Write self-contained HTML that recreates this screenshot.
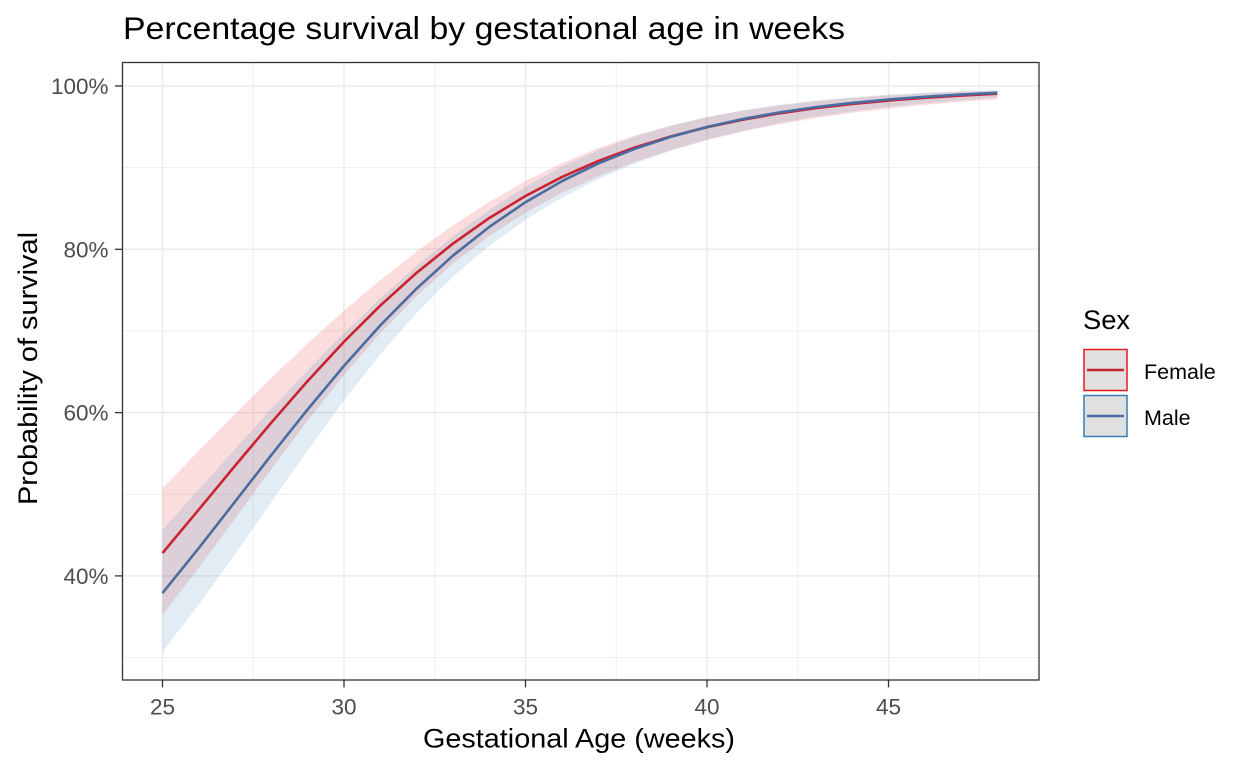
<!DOCTYPE html>
<html>
<head>
<meta charset="utf-8">
<style>
  html, body { margin: 0; padding: 0; background: #ffffff; }
  svg { display: block; }
  text { font-family: "Liberation Sans", Arial, sans-serif; }
</style>
</head>
<body>
<svg id="chart" xmlns="http://www.w3.org/2000/svg" width="1248" height="768" viewBox="0 0 1248 768">
  <rect x="0" y="0" width="1248" height="768" fill="#ffffff"/>

  <!-- minor grid -->
  <g stroke="#EBEBEB" stroke-width="0.8" fill="none">
    <line x1="122.5" x2="1039" y1="657.55" y2="657.55"/>
    <line x1="122.5" x2="1039" y1="494.25" y2="494.25"/>
    <line x1="122.5" x2="1039" y1="330.95" y2="330.95"/>
    <line x1="122.5" x2="1039" y1="167.65" y2="167.65"/>
    <line y1="62.5" y2="680" x1="253.25" x2="253.25"/>
    <line y1="62.5" y2="680" x1="434.75" x2="434.75"/>
    <line y1="62.5" y2="680" x1="616.25" x2="616.25"/>
    <line y1="62.5" y2="680" x1="797.75" x2="797.75"/>
    <line y1="62.5" y2="680" x1="979.25" x2="979.25"/>
  </g>
  <!-- major grid -->
  <g stroke="#EBEBEB" stroke-width="1.5" fill="none">
    <line x1="122.5" x2="1039" y1="575.9" y2="575.9"/>
    <line x1="122.5" x2="1039" y1="412.6" y2="412.6"/>
    <line x1="122.5" x2="1039" y1="249.3" y2="249.3"/>
    <line x1="122.5" x2="1039" y1="86" y2="86"/>
    <line y1="62.5" y2="680" x1="162.5" x2="162.5"/>
    <line y1="62.5" y2="680" x1="344" x2="344"/>
    <line y1="62.5" y2="680" x1="525.5" x2="525.5"/>
    <line y1="62.5" y2="680" x1="707" x2="707"/>
    <line y1="62.5" y2="680" x1="888.5" x2="888.5"/>
  </g>

  <!-- ribbons -->
  <path id="ribF" fill="#E41A1C" fill-opacity="0.15" stroke="none" d=""/>
  <path id="ribM" fill="#377EB8" fill-opacity="0.15" stroke="none" d=""/>
  <!-- lines -->
  <path id="lineF" fill="none" stroke="#C92230" stroke-width="2.6" stroke-linejoin="round" d=""/>
  <path id="lineM" fill="none" stroke="#4A6CA0" stroke-width="2.6" stroke-linejoin="round" d=""/>

  <!-- panel border -->
  <rect x="122.5" y="62.5" width="916.5" height="617.5" fill="none" stroke="#333333" stroke-width="1.3"/>

  <!-- ticks -->
  <g stroke="#333333" stroke-width="1.3">
    <line x1="115" x2="122.5" y1="86" y2="86"/>
    <line x1="115" x2="122.5" y1="249.3" y2="249.3"/>
    <line x1="115" x2="122.5" y1="412.6" y2="412.6"/>
    <line x1="115" x2="122.5" y1="575.9" y2="575.9"/>
    <line y1="680" y2="687.5" x1="162.5" x2="162.5"/>
    <line y1="680" y2="687.5" x1="344" x2="344"/>
    <line y1="680" y2="687.5" x1="525.5" x2="525.5"/>
    <line y1="680" y2="687.5" x1="707" x2="707"/>
    <line y1="680" y2="687.5" x1="888.5" x2="888.5"/>
  </g>

  <!-- y tick labels -->
  <g fill="#4D4D4D" font-size="22.5" text-anchor="end">
    <text x="108.5" y="94">100%</text>
    <text x="108.5" y="257.3">80%</text>
    <text x="108.5" y="420.6">60%</text>
    <text x="108.5" y="583.9">40%</text>
  </g>
  <!-- x tick labels -->
  <g fill="#4D4D4D" font-size="22.5" text-anchor="middle">
    <text x="162.5" y="714.5">25</text>
    <text x="344" y="714.5">30</text>
    <text x="525.5" y="714.5">35</text>
    <text x="707" y="714.5">40</text>
    <text x="888.5" y="714.5">45</text>
  </g>

  <!-- axis titles -->
  <text x="579" y="747.5" font-size="27" fill="#000000" text-anchor="middle" textLength="312" lengthAdjust="spacingAndGlyphs">Gestational Age (weeks)</text>
  <text transform="translate(37,368.5) rotate(-90)" font-size="27" fill="#000000" text-anchor="middle" textLength="273" lengthAdjust="spacingAndGlyphs">Probability of survival</text>

  <!-- title -->
  <text x="123" y="39" font-size="31.5" fill="#000000" textLength="722" lengthAdjust="spacingAndGlyphs">Percentage survival by gestational age in weeks</text>

  <!-- legend -->
  <text x="1083" y="329" font-size="27" fill="#000000" textLength="47" lengthAdjust="spacingAndGlyphs">Sex</text>
  <rect x="1084" y="349.5" width="43" height="41" fill="#E0E0E0" stroke="#E41A1C" stroke-width="1.5"/>
  <line x1="1087" x2="1124" y1="370" y2="370" stroke="#C92230" stroke-width="2.6"/>
  <rect x="1084" y="395.5" width="43" height="41" fill="#E0E0E0" stroke="#377EB8" stroke-width="1.5"/>
  <line x1="1087" x2="1124" y1="416" y2="416" stroke="#4A6CA0" stroke-width="2.6"/>
  <text x="1144" y="379" font-size="21.5" fill="#000000">Female</text>
  <text x="1144" y="425" font-size="21.5" fill="#000000">Male</text>
</svg>
<script>
(function(){
  function X(w){ return 162.5 + (w - 25) * 36.3; }
  function Y(p){ return 86 + (1 - p) * 816.5; }
  function sig(z){ return 1 / (1 + Math.exp(-z)); }
  function hw(w){ return Math.sqrt(0.0225 + 0.00124 * (w - 33) * (w - 33)); }
  var series = [
    {a: -0.29, b: 0.215, rib: 'ribF', line: 'lineF'},
    {a: -0.494, b: 0.229, rib: 'ribM', line: 'lineM'}
  ];
  series.forEach(function(s){
    var up = [], lo = [], ln = [];
    for (var w = 25; w <= 48; w++) {
      var L = s.a + s.b * (w - 25);
      var h = hw(w);
      ln.push(X(w).toFixed(2) + ',' + Y(sig(L)).toFixed(2));
      up.push(X(w).toFixed(2) + ',' + Y(sig(L + h)).toFixed(2));
      lo.push(X(w).toFixed(2) + ',' + Y(sig(L - h)).toFixed(2));
    }
    lo.reverse();
    document.getElementById(s.rib).setAttribute('d', 'M' + up.join(' L') + ' L' + lo.join(' L') + ' Z');
    document.getElementById(s.line).setAttribute('d', 'M' + ln.join(' L'));
  });
})();
</script>
</body>
</html>
